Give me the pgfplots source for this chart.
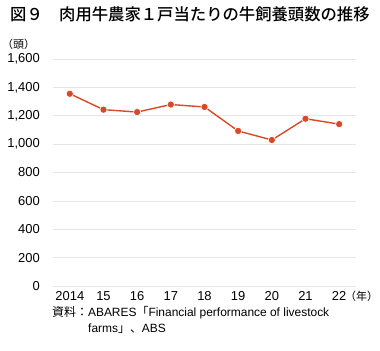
\documentclass[border=0pt]{standalone}
\usepackage{fontspec}
\setmainfont{Liberation Sans}
\newfontfamily\cjk{Noto Sans CJK JP}
\IfFontExistsTF{Noto Sans CJK JP Medium}{\newfontfamily\cjkm{Noto Sans CJK JP Medium}}{\newfontfamily\cjkm[FakeBold=1.2]{Noto Sans CJK JP}}
\usepackage{pgfplots}
\pgfplotsset{compat=1.18}
\definecolor{lc}{RGB}{217,72,40}
\definecolor{gridc}{RGB}{230,230,230}
\begin{document}
\begin{tikzpicture}[x=1bp,y=1bp]
\useasboundingbox (-53,-65) rectangle (327,286);
\begin{axis}[at={(0,0)}, anchor=south west, scale only axis,
  width=303bp, height=227bp,
  xmin=-0.5, xmax=8.5, ymin=0, ymax=1600,
  axis line style={draw=none},
  major tick length=0pt,
  ytick={0,200,...,1600}, ymajorgrids,
  grid style={gridc, line width=0.7bp},
  xtick={0,...,8}, xticklabels={2014,15,16,17,18,19,20,21,22},
  /pgf/number format/assume math mode=true,
  /pgf/number format/1000 sep={,},
  yticklabel style={font=\fontsize{13}{13}\selectfont, anchor=east, inner sep=0pt, xshift=-13bp},
  xticklabel style={font=\fontsize{13}{13}\selectfont, anchor=center, inner sep=0pt, yshift=-10bp},
  clip=false]
\addplot[lc, line width=1.4bp, mark=*, mark size=3.6bp,
  mark options={draw=white, fill=lc, line width=0.6bp}]
  coordinates {(0,1355) (1,1243) (2,1226) (3,1279) (4,1262) (5,1093) (6,1029) (7,1179) (8,1141)};
\end{axis}
\node[anchor=west, inner sep=0pt, font=\cjkm\fontsize{16.4}{16.4}\selectfont] at (-43,272) {図９　肉用牛農家１戸当たりの牛飼養頭数の推移};
\node[anchor=west, inner sep=0pt, font=\cjk\fontsize{11}{11}\selectfont] at (-51,242) {（頭）};
\node[anchor=west, inner sep=0pt, font=\cjk\fontsize{11}{11}\selectfont] at (292,-10) {（年）};
\node[anchor=west, inner sep=0pt, font=\fontsize{12}{12}\selectfont] at (-1,-27) {{\cjk 資料：}ABARES{\cjk 「}Financial performance of livestock};
\node[anchor=west, inner sep=0pt, font=\fontsize{12}{12}\selectfont] at (35,-43) {farms{\cjk 」、}ABS};
\end{tikzpicture}
\end{document}
